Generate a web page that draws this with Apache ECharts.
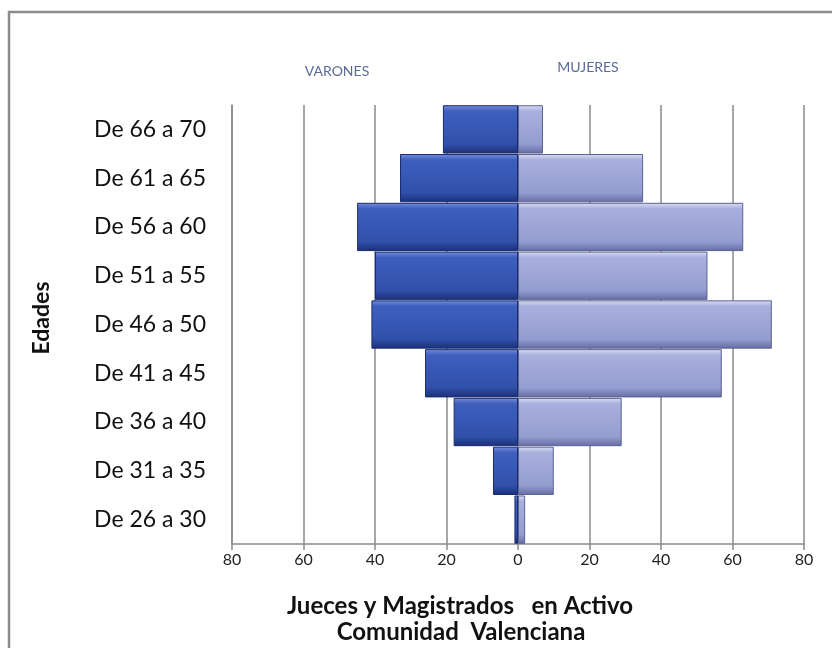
<!DOCTYPE html>
<html>
<head>
<meta charset="utf-8">
<script src="https://cdn.jsdelivr.net/npm/echarts@6/dist/echarts.min.js"></script>
<style>
html,body{margin:0;padding:0;background:#fff;}
#chart{width:832px;height:648px;}
</style>
</head>
<body>
<div id="chart"></div>
<script>
const categories = ['De 26 a 30','De 31 a 35','De 36 a 40','De 41 a 45','De 46 a 50','De 51 a 55','De 56 a 60','De 61 a 65','De 66 a 70'];
const varones = [1, 7, 18, 26, 41, 40, 45, 33, 21];
const mujeres = [2, 10, 29, 57, 71, 53, 63, 35, 7];
const xTicks = [-80, -60, -40, -20, 0, 20, 40, 60, 80];

const FONT = 'Lato, "Open Sans", sans-serif';
const chart = echarts.init(document.getElementById('chart'), null, {renderer: 'canvas'});

const leftFill = new echarts.graphic.LinearGradient(0, 0, 0, 1, [
  {offset: 0, color: '#7690dc'},
  {offset: 0.12, color: '#3f5fbf'},
  {offset: 0.8, color: '#3050aa'},
  {offset: 1, color: '#1c2f78'}
]);
const rightFill = new echarts.graphic.LinearGradient(0, 0, 0, 1, [
  {offset: 0, color: '#dde0f4'},
  {offset: 0.12, color: '#a9b0de'},
  {offset: 0.8, color: '#959dd0'},
  {offset: 1, color: '#646ca4'}
]);

chart.setOption({
  animation: false,
  backgroundColor: '#ffffff',
  grid: {left: 232, right: 28, top: 105, bottom: 104, containLabel: false},
  xAxis: {
    type: 'value',
    min: xTicks[0],
    max: xTicks[xTicks.length - 1],
    interval: 20,
    axisLine: {show: true, onZero: false, lineStyle: {color: '#8a8a8a', width: 1.5}},
    axisTick: {show: true, length: 6, lineStyle: {color: '#8a8a8a', width: 1.5}},
    axisLabel: {
      color: '#222', fontSize: 16, fontFamily: FONT, margin: 8,
      formatter: v => String(Math.abs(v))
    },
    splitLine: {show: true, lineStyle: {color: '#8a8a8a', width: 1.5}}
  },
  yAxis: {
    type: 'category',
    data: categories,
    axisLine: {show: true, onZero: false, lineStyle: {color: '#8a8a8a', width: 1.5}},
    axisTick: {show: false},
    axisLabel: {color: '#111', fontSize: 23, fontFamily: FONT, margin: 26}
  },
  series: [
    {
      name: 'VARONES',
      type: 'bar',
      stack: 'total',
      data: varones.map(v => -v),
      barCategoryGap: '1%',
      itemStyle: {color: leftFill, borderColor: '#1a2b6e', borderWidth: 1}
    },
    {
      name: 'MUJERES',
      type: 'bar',
      stack: 'total',
      data: mujeres,
      barCategoryGap: '1%',
      itemStyle: {color: rightFill, borderColor: '#5a628f', borderWidth: 1}
    }
  ],
  graphic: [
    {
      type: 'rect', silent: true, z: -1,
      shape: {x: 9, y: 12, width: 840, height: 660},
      style: {fill: 'none', stroke: '#8c8c8c', lineWidth: 2.5}
    },
    {
      type: 'text', x: 337, y: 71,
      style: {text: 'VARONES', fill: '#5b6a98', font: '14px ' + FONT, align: 'center', verticalAlign: 'middle'}
    },
    {
      type: 'text', x: 588, y: 67,
      style: {text: 'MUJERES', fill: '#5b6a98', font: '14px ' + FONT, align: 'center', verticalAlign: 'middle'}
    },
    {
      type: 'text', x: 460, y: 606,
      style: {text: 'Jueces y Magistrados   en Activo', fill: '#111', font: 'bold 24px ' + FONT, align: 'center', verticalAlign: 'middle'}
    },
    {
      type: 'text', x: 461, y: 632,
      style: {text: 'Comunidad  Valenciana', fill: '#111', font: 'bold 24px ' + FONT, align: 'center', verticalAlign: 'middle'}
    },
    {
      type: 'text', x: 42, y: 318, rotation: Math.PI / 2,
      style: {text: 'Edades', fill: '#111', font: 'bold 23px ' + FONT, align: 'center', verticalAlign: 'middle'}
    }
  ]
});
</script>
</body>
</html>
